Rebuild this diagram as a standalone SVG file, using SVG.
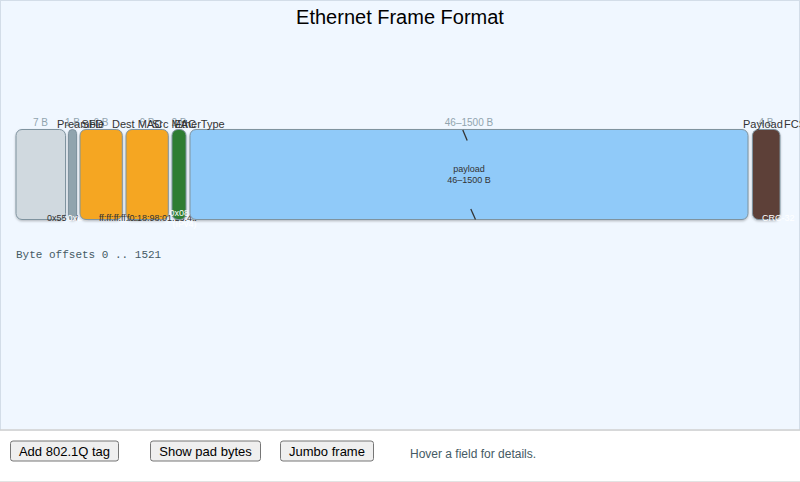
<svg xmlns="http://www.w3.org/2000/svg" width="800" height="482" viewBox="0 0 800 482">
<style>
text{font-family:"Liberation Sans",Arial,Helvetica,sans-serif}
.fld{stroke:#7f939f;stroke-width:1;filter:url(#sh)}
.sz{font-size:10px;fill:#90a4ae;text-anchor:middle}
.nm{font-size:11px;fill:#333}
.val{font-size:9px;fill:#333}
.valw{font-size:9px;fill:#fff}
.btn{fill:#efefef;stroke:#767676;stroke-width:1}
.btxt{font-size:13px;fill:#000;text-anchor:middle}
.brk{stroke:#333;stroke-width:1.3;fill:none}
</style>
<defs>
<filter id="sh" x="-10%" y="-10%" width="120%" height="130%">
<feDropShadow dx="0" dy="1.2" stdDeviation="0.8" flood-color="#000" flood-opacity="0.25"/>
</filter>
</defs>
<rect x="0.5" y="0.5" width="799" height="430" fill="#f0f7ff" stroke="#d3dde8"/>
<rect x="0" y="430.5" width="800" height="51" fill="#fff"/>
<line x1="0" y1="430" x2="800" y2="430" stroke="#d0d0d0" stroke-width="1.5"/>
<line x1="0" y1="481.5" x2="800" y2="481.5" stroke="#e3e3e3"/>
<text x="400" y="24" font-size="20" fill="#000" text-anchor="middle">Ethernet Frame Format</text>

<g id="preamble">
<rect class="fld" x="16" y="129.5" width="49.5" height="90" rx="6" fill="#d0d9df"/>
<text class="sz" x="40.5" y="126">7 B</text>
<text class="val" x="47" y="221">0x55 ×7</text>
</g>
<g id="sfd">
<rect class="fld" x="68.5" y="129.5" width="8" height="90" rx="4" fill="#90a4ae"/>
<text class="sz" x="72.5" y="126">1 B</text>
<text class="valw" x="67.5" y="221">0xD5</text>
</g>
<g id="dest-mac">
<rect class="fld" x="80" y="129.5" width="42.3" height="90" rx="6" fill="#f5a623"/>
<text class="sz" x="101" y="126">6 B</text>
<text class="val" x="99" y="221">ff:ff:ff:ff:ff:ff</text>
</g>
<g id="src-mac">
<rect class="fld" x="126" y="129.5" width="42.3" height="90" rx="6" fill="#f5a623"/>
<text class="sz" x="147" y="126">6 B</text>
<text class="val" x="127" y="221">f0:18:98:01:23:45</text>
</g>
<g id="ethertype">
<rect class="fld" x="172" y="129.5" width="14" height="90" rx="6" fill="#2e7d32"/>
<text class="sz" x="179" y="126">2 B</text>
<text class="valw" x="169.5" y="216">0x0800</text>
<text class="valw" x="172.5" y="227">(IPv4)</text>
</g>
<g id="payload">
<rect class="fld" x="190" y="129.5" width="558" height="90" rx="6" fill="#90caf9"/>
<text class="sz" x="469" y="126">46–1500 B</text>
<text x="469" y="172" font-size="9" fill="#333" text-anchor="middle">payload</text>
<text x="469" y="183" font-size="9" fill="#333" text-anchor="middle">46–1500 B</text>
<line class="brk" x1="462.8" y1="130" x2="467.2" y2="140.5"/>
<line class="brk" x1="470.8" y1="209" x2="475.5" y2="219.5"/>
</g>
<g id="fcs">
<rect class="fld" x="752.5" y="129.5" width="27.5" height="90" rx="6" fill="#5d4037"/>
<text class="sz" x="766" y="126">4 B</text>
<text class="valw" x="762" y="221">CRC-32</text>
</g>
<g id="names">
<text class="nm" x="57" y="128">Preamble</text>
<text class="nm" x="81.5" y="128">SFD</text>
<text class="nm" x="112" y="128">Dest MAC</text>
<text class="nm" x="152" y="128">Src MAC</text>
<text class="nm" x="174.5" y="128">EtherType</text>
<text class="nm" x="743" y="128">Payload</text>
<text class="nm" x="784" y="128">FCS</text>
</g>
<g id="connectors"></g>
<text x="16" y="258" font-size="11" fill="#455a64" style="font-family:'Liberation Mono','Courier New',monospace">Byte offsets 0 .. 1521</text>

<g id="controls">
<rect class="btn" x="10.5" y="441" width="108" height="20" rx="2.5"/>
<text class="btxt" x="64.5" y="455.5">Add 802.1Q tag</text>
<rect class="btn" x="150.5" y="441" width="110" height="20" rx="2.5"/>
<text class="btxt" x="205.5" y="455.5">Show pad bytes</text>
<rect class="btn" x="280.5" y="441" width="93" height="20" rx="2.5"/>
<text class="btxt" x="327" y="455.5">Jumbo frame</text>
<text x="410" y="458" font-size="12" fill="#455a64">Hover a field for details.</text>
</g>
</svg>
